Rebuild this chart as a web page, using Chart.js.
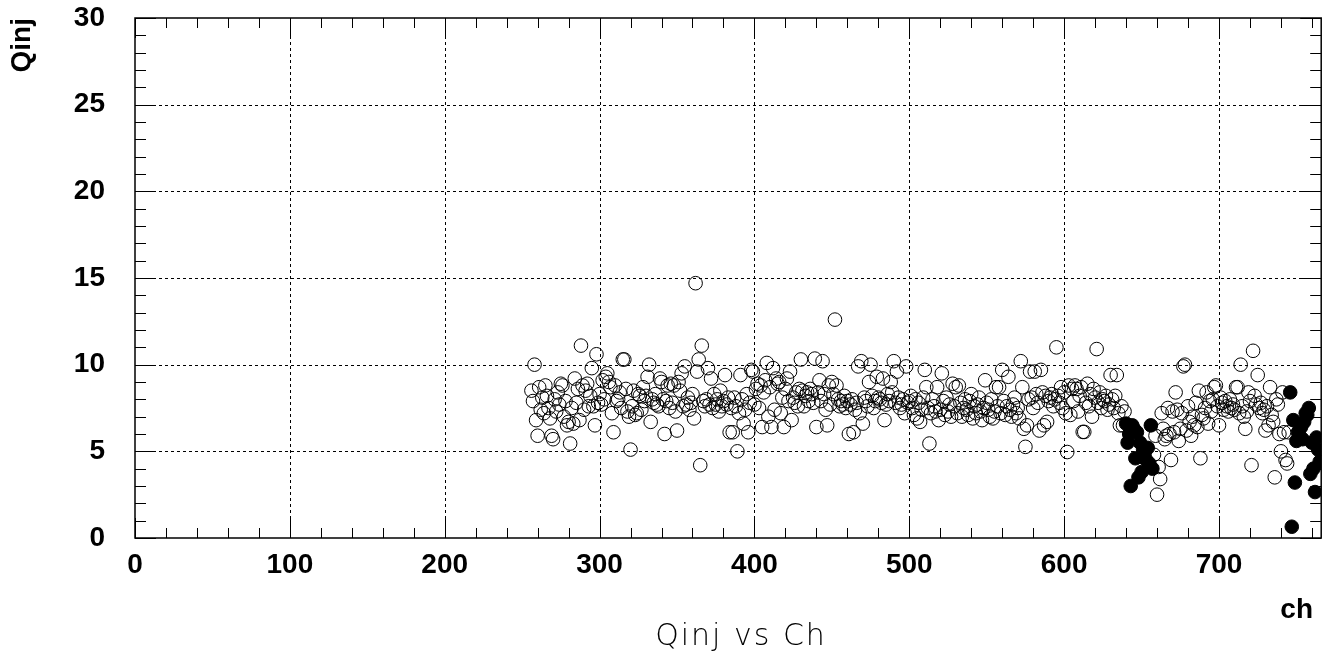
<!DOCTYPE html>
<html>
<head>
<meta charset="utf-8">
<script src="https://cdn.jsdelivr.net/npm/chart.js@4.4.1/dist/chart.umd.min.js"></script>
<style>
  html, body { margin: 0; padding: 0; background: #fff; }
</style>
</head>
<body>
<canvas id="chart" width="1329" height="660"></canvas>
<script>
// Qinj per channel, one value per channel starting at firstCh
const firstCh = 256;
const qinj = [
  8.5, 7.9, 10.0, 6.8, 5.9, 8.7, 7.4, 8.1, 7.2, 8.8,
  8.2, 7.5, 6.9, 5.9, 5.7, 8.0, 7.3, 8.4, 7.7, 8.9,
  8.8, 7.0, 7.9, 6.5, 6.7, 5.45, 7.5, 6.6, 9.2, 7.8,
  8.6, 6.8, 11.1, 8.8, 7.4, 8.5, 8.9, 7.6, 8.2, 9.8,
  7.6, 6.5, 10.6, 7.8, 8.3, 7.7, 9.1, 8.0, 9.3, 9.5,
  9.0, 8.7, 7.2, 6.1, 8.8, 7.9, 8.0, 8.4, 7.5, 10.3,
  10.3, 8.6, 7.3, 7.0, 5.1, 7.6, 8.5, 7.1, 7.2, 8.3,
  8.2, 7.4, 8.7, 7.9, 8.2, 9.3, 10.0, 6.7, 8.0, 7.8,
  8.3, 7.7, 7.6, 9.2, 9.0, 8.0, 6.0, 7.9, 8.8, 7.5,
  8.9, 7.8, 8.8, 7.3, 6.2, 9.0, 8.5, 9.5, 7.6, 9.9,
  7.7, 8.1, 7.4, 7.8, 8.3, 6.9, 14.7, 9.6, 10.3, 4.2,
  11.1, 7.9, 7.6, 8.0, 9.8, 7.7, 9.2, 7.5, 8.3, 7.7,
  8.0, 7.3, 8.5, 7.6, 7.9, 9.4, 7.7, 8.1, 6.1, 7.5,
  6.1, 8.1, 7.6, 5.0, 7.2, 9.4, 8.0, 6.6, 7.4, 8.3,
  6.1, 7.8, 9.7, 9.6, 7.7, 8.6, 8.9, 7.5, 8.8, 6.4,
  8.4, 9.1, 10.1, 7.0, 8.7, 6.4, 9.8, 7.4, 9.2, 8.9,
  9.0, 7.2, 8.1, 6.4, 8.6, 9.2, 7.9, 9.6, 6.8, 8.1,
  7.8, 8.4, 7.6, 8.6, 10.3, 8.5, 7.6, 8.2, 8.4, 7.9,
  8.6, 8.3, 7.8, 10.35, 6.4, 8.4, 9.1, 7.9, 10.2, 8.3,
  7.4, 6.5, 8.8, 7.7, 9.0, 8.3, 12.6, 8.8, 8.0, 7.6,
  7.9, 7.7, 8.2, 7.5, 7.9, 6.0, 7.7, 8.0, 6.1, 7.4,
  7.8, 9.9, 7.2, 10.2, 6.6, 8.1, 7.9, 7.6, 9.0, 10.0,
  8.2, 7.5, 7.9, 9.3, 8.1, 8.0, 7.8, 9.2, 6.8, 7.7,
  8.3, 7.9, 9.0, 8.4, 10.2, 7.8, 9.6, 8.1, 7.5, 7.7,
  8.0, 7.2, 9.9, 7.8, 7.9, 8.2, 7.5, 7.1, 8.0, 6.9,
  7.8, 6.7, 7.4, 8.1, 9.7, 8.7, 7.5, 5.45, 7.2, 8.0,
  7.6, 7.3, 8.7, 6.8, 7.4, 9.5, 7.9, 7.1, 8.1, 7.3,
  7.7, 7.0, 8.9, 7.6, 8.7, 7.2, 8.8, 7.8, 7.0, 7.5,
  8.0, 7.4, 7.1, 7.9, 8.3, 6.9, 7.6, 7.2, 7.7, 8.1,
  7.3, 6.8, 7.5, 9.1, 7.8, 7.4, 7.0, 8.0, 6.9, 7.3,
  8.7, 7.6, 8.7, 7.2, 9.7, 7.9, 7.1, 7.6, 9.3, 7.4,
  7.0, 7.7, 8.1, 7.2, 7.5, 6.9, 10.2, 8.7, 6.3, 5.26,
  6.5, 8.0, 9.6, 8.1, 7.5, 9.6, 8.3, 7.8, 6.2, 9.7,
  8.4, 6.5, 8.2, 6.7, 7.9, 8.1, 8.3, 7.6, 8.0, 11.0,
  8.2, 7.8, 8.7, 7.5, 8.4, 7.2, 4.96, 8.8, 7.1, 8.6,
  7.9, 8.8, 8.6, 7.3, 8.2, 8.7, 6.12, 6.12, 7.8, 8.9,
  7.6, 8.3, 7.0, 8.6, 8.1, 10.9, 7.8, 8.4, 7.5, 8.0,
  7.9, 8.2, 7.4, 7.7, 9.4, 8.0, 7.5, 8.2, 9.4, 7.2,
  6.5, 7.6, 6.5, 7.3, 6.6, 5.5, 6.0, 3.0, 6.5, 6.3,
  4.6, 6.1, 3.5, 5.5, 3.8, 5.1, 4.9, 4.5, 5.2, 4.3,
  6.5, 4.0, 4.8, 5.9, 2.5, 4.1, 3.4, 7.2, 6.3, 5.7,
  5.9, 7.5, 6.0, 4.5, 7.3, 6.1, 8.4, 7.4, 5.6, 6.3,
  7.2, 9.9, 10.0, 6.2, 7.6, 6.7, 5.9, 7.0, 6.5, 7.8,
  6.4, 8.5, 4.6, 7.1, 6.9, 7.5, 8.4, 6.6, 7.9, 7.3,
  8.0, 8.7, 8.8, 7.6, 6.5, 8.1, 7.8, 7.4, 7.9, 7.6,
  7.3, 8.0, 7.5, 7.7, 7.4, 8.7, 8.7, 7.2, 10.0, 7.6,
  7.0, 6.3, 7.3, 8.4, 7.9, 4.2, 10.8, 8.2, 7.7, 9.4,
  7.5, 7.8, 7.2, 7.4, 6.2, 7.6, 6.5, 8.7, 7.1, 6.7,
  3.5, 8.0, 7.7, 6.0, 5.0, 8.4, 6.1, 4.5, 4.3, 6.1,
  8.4, 0.65, 6.8, 3.2, 5.6, 6.1, 5.9, 6.4, 5.7, 6.7,
  7.2, 7.1, 7.5, 3.7, 5.5, 4.0, 2.65, 5.8, 5.1, 4.4
];

// channels drawn with a filled marker
const filledCh = [
  640, 641, 642, 643, 644, 645, 646, 647, 648, 649, 650, 651, 652, 653, 654, 655, 656, 657,
  746, 747, 748, 749, 750, 751, 752, 753, 754, 755, 756, 757, 758, 759, 760, 761, 762, 763, 764, 765
];

// axes
const xMin = 0, xMax = 766;
const yMin = 0, yMax = 30;
const xTicks = [0, 100, 200, 300, 400, 500, 600, 700];
const yTicks = [0, 5, 10, 15, 20, 25, 30];
const xMinorStep = 20;
const yMinorStep = 1;

const xTitle = 'ch';
const yTitle = 'Qinj';
const plotTitle = 'Qinj vs Ch';

// split points into open / filled
const openPts = [], filledPts = [];
qinj.forEach((q, i) => {
  const ch = firstCh + i;
  (filledCh.includes(ch) ? filledPts : openPts).push({ x: ch, y: q });
});

const labelFont = { family: "'Liberation Sans', Arial, sans-serif", size: 28, weight: 'bold' };

// ROOT-like frame: dotted grid, inner ticks on all four sides, titles
const rootFrame = {
  id: 'rootFrame',
  beforeDatasetsDraw(chart) {
    const { ctx, chartArea: a, scales: { x, y } } = chart;
    ctx.save();
    ctx.strokeStyle = '#000';
    ctx.lineWidth = 1;
    ctx.setLineDash([3, 3]);
    ctx.beginPath();
    xTicks.forEach(v => {
      if (v <= xMin || v >= xMax) return;
      const px = Math.round(x.getPixelForValue(v)) + 0.5;
      ctx.moveTo(px, a.top); ctx.lineTo(px, a.bottom);
    });
    yTicks.forEach(v => {
      if (v <= yMin || v >= yMax) return;
      const py = Math.round(y.getPixelForValue(v)) + 0.5;
      ctx.moveTo(a.left, py); ctx.lineTo(a.right, py);
    });
    ctx.stroke();
    ctx.restore();
  },
  afterDatasetsDraw(chart) {
    const { ctx, chartArea: a, scales: { x, y } } = chart;
    ctx.save();
    ctx.strokeStyle = '#000';
    ctx.lineWidth = 1;
    ctx.setLineDash([]);
    ctx.beginPath();
    // x ticks
    for (let v = xMin; v <= xMax; v += xMinorStep) {
      const len = xTicks.includes(v) ? 20 : 10;
      const px = Math.round(x.getPixelForValue(v)) + 0.5;
      ctx.moveTo(px, a.bottom); ctx.lineTo(px, a.bottom - len);
      ctx.moveTo(px, a.top); ctx.lineTo(px, a.top + len);
    }
    // y ticks
    for (let v = yMin; v <= yMax; v += yMinorStep) {
      const len = yTicks.includes(v) ? 21 : 11;
      const py = Math.round(y.getPixelForValue(v)) + 0.5;
      ctx.moveTo(a.left, py); ctx.lineTo(a.left + len, py);
      ctx.moveTo(a.right, py); ctx.lineTo(a.right - len, py);
    }
    ctx.stroke();
    ctx.lineWidth = 1.5;
    ctx.strokeRect(a.left, a.top, a.right - a.left, a.bottom - a.top);

    // titles
    ctx.fillStyle = '#000';
    ctx.font = "bold 28px 'Liberation Sans', Arial, sans-serif";
    ctx.textAlign = 'right';
    ctx.textBaseline = 'alphabetic';
    ctx.fillText(xTitle, 1313, 618);

    ctx.save();
    ctx.translate(30, a.top);
    ctx.rotate(-Math.PI / 2);
    ctx.textAlign = 'right';
    ctx.fillText(yTitle, 0, 0);
    ctx.restore();

    ctx.font = "200 30px 'DejaVu Sans', sans-serif";
    ctx.textAlign = 'center';
    ctx.letterSpacing = '2px';
    ctx.fillText(plotTitle, 741, 645);
    ctx.restore();
  }
};

const markerBase = {
  pointStyle: 'circle',
  pointRadius: 6.8,
  pointHoverRadius: 6.8,
  pointBorderWidth: 1,
  borderColor: '#000',
  showLine: false,
  clip: 0
};

new Chart(document.getElementById('chart'), {
  type: 'scatter',
  data: {
    datasets: [
      Object.assign({}, markerBase, { label: 'good', data: openPts, backgroundColor: 'rgba(0,0,0,0)', pointBackgroundColor: 'rgba(0,0,0,0)' }),
      Object.assign({}, markerBase, { label: 'flagged', data: filledPts, backgroundColor: '#000', pointBackgroundColor: '#000' })
    ]
  },
  options: {
    responsive: false,
    animation: false,
    events: [],
    layout: { padding: { top: 18, right: 7, left: 0, bottom: 0 } },
    plugins: { legend: { display: false }, tooltip: { enabled: false } },
    scales: {
      x: {
        type: 'linear',
        min: xMin,
        max: xMax,
        grid: { display: false, drawTicks: false },
        border: { display: false },
        afterFit: (s) => { s.height = 122; s.paddingLeft = 0; s.paddingRight = 0; },
        afterBuildTicks: (s) => { s.ticks = xTicks.map(v => ({ value: v })); },
        ticks: {
          color: '#000',
          font: labelFont,
          padding: 10,
          maxRotation: 0,
          autoSkip: false,
          includeBounds: false
        }
      },
      y: {
        type: 'linear',
        min: yMin,
        max: yMax,
        grid: { display: false, drawTicks: false },
        border: { display: false },
        afterFit: (s) => { s.width = 135; s.paddingTop = 0; s.paddingBottom = 0; },
        afterBuildTicks: (s) => { s.ticks = yTicks.map(v => ({ value: v })); },
        ticks: {
          color: '#000',
          font: labelFont,
          padding: 30,
          autoSkip: false
        }
      }
    }
  },
  plugins: [rootFrame]
});
</script>
</body>
</html>
